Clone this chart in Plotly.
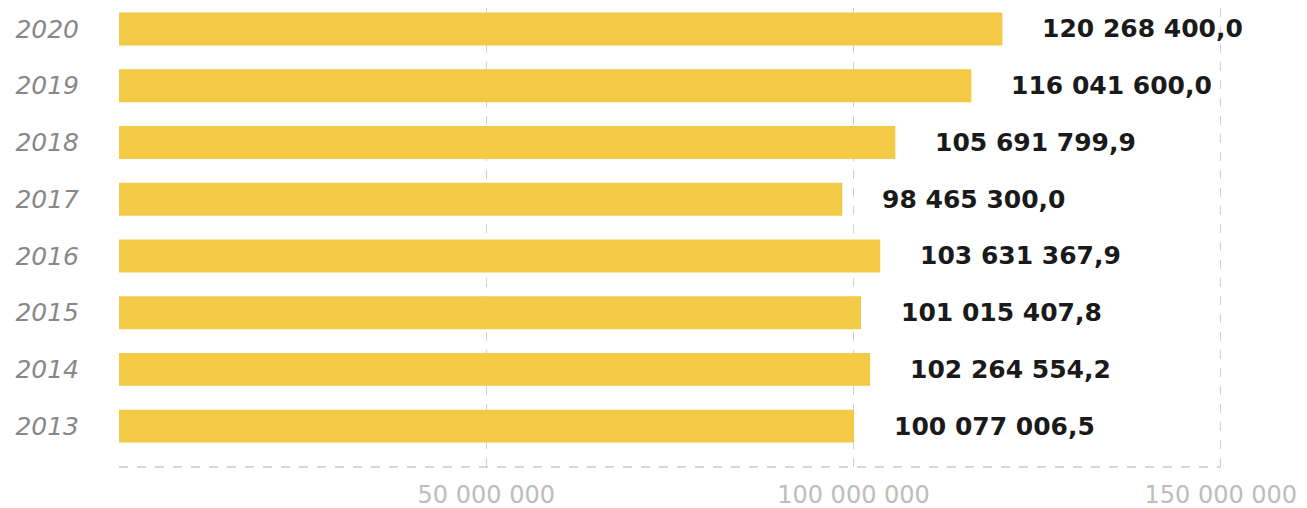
import plotly.graph_objects as go

years = ["2013", "2014", "2015", "2016", "2017", "2018", "2019", "2020"]
values = [100077006.5, 102264554.2, 101015407.8, 103631367.9,
          98465300.0, 105691799.9, 116041600.0, 120268400.0]
value_labels = ["100 077 006,5", "102 264 554,2", "101 015 407,8", "103 631 367,9",
                "98 465 300,0", "105 691 799,9", "116 041 600,0", "120 268 400,0"]
tick_vals = [50000000, 100000000, 150000000]
tick_text = ["50 000 000", "100 000 000", "150 000 000"]

fig = go.Figure()
fig.add_trace(go.Bar(
    x=values, y=years, orientation="h",
    marker=dict(color="#F2CA45", line=dict(width=0)),
    width=0.58, hoverinfo="skip",
))

for i, (v, t) in enumerate(zip(values, value_labels)):
    fig.add_annotation(x=v, y=i, xref="x", yref="y", text=t, showarrow=False,
                       xanchor="left", yanchor="middle", xshift=38,
                       font=dict(family="DejaVu Sans", size=25, color="#1a1a1a",
                                 weight="bold"))

fig.add_shape(type="line", xref="x", yref="paper", x0=0, x1=150000000, y0=0, y1=0,
              line=dict(color="#cccccc", width=1.3, dash="dash"))

fig.update_layout(
    width=1299, height=500,
    margin=dict(l=111, r=84, t=0, b=41),
    plot_bgcolor="white", paper_bgcolor="white",
    showlegend=False,
    font=dict(family="DejaVu Sans"),
)
fig.update_xaxes(
    range=[0, 150300000], tickvals=tick_vals, ticktext=tick_text,
    showgrid=True, gridcolor="#d0d0d0", griddash="dash", gridwidth=1.3,
    zeroline=False, showline=False, ticks="", automargin=False,
    tickfont=dict(family="DejaVu Sans", size=24, color="#bdbdbd"),
    ticklabelstandoff=11,
)
fig.update_yaxes(
    type="category", categoryorder="array", categoryarray=years,
    range=[-0.72, 7.37], showgrid=False, zeroline=False, showline=False, ticks="",
    automargin=False,
    tickfont=dict(family="DejaVu Sans", size=25, color="#888888", style="italic"),
    ticklabelstandoff=39,
)

fig.write_html("out.html")
